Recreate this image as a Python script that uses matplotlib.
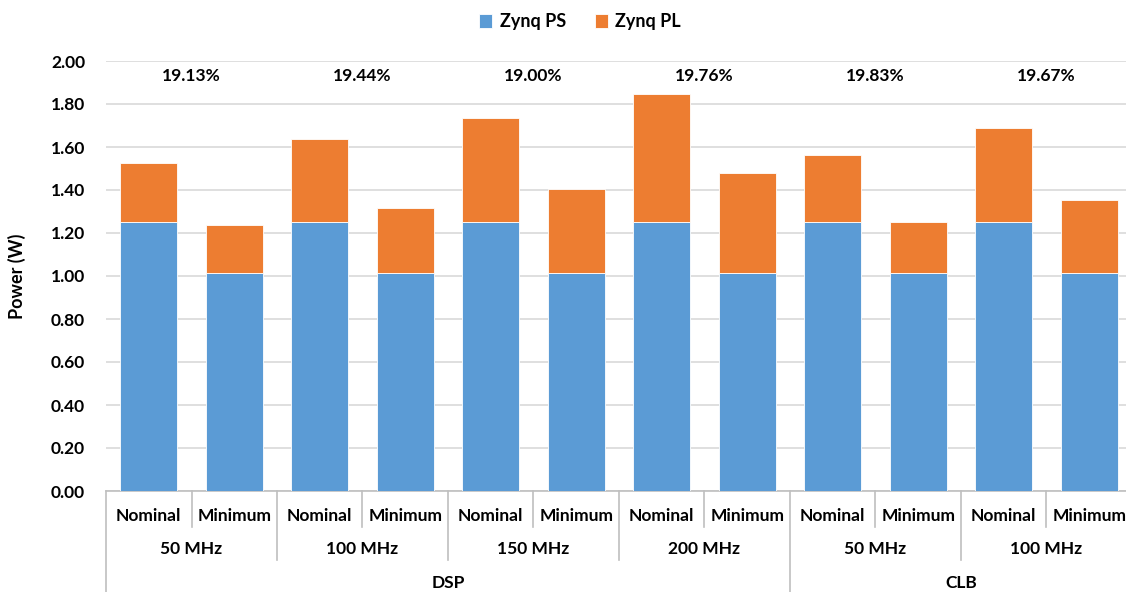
import matplotlib.pyplot as plt
from matplotlib.lines import Line2D

plt.rcParams['font.family'] = ['Lato', 'DejaVu Sans']
plt.rcParams['font.weight'] = 'bold'

# уровни подписей по оси X
modes = ['Nominal', 'Minimum'] * 6
freqs = ['50 MHz', '100 MHz', '150 MHz', '200 MHz', '50 MHz', '100 MHz']
blocks = ['DSP', 'CLB']
block_sizes = [4, 2]

# мощность, Вт
ps = [1.25, 1.015, 1.25, 1.015, 1.25, 1.015, 1.25, 1.015, 1.25, 1.015, 1.25, 1.015]
total = [1.525, 1.235, 1.637, 1.316, 1.733, 1.403, 1.847, 1.479, 1.563, 1.251, 1.687, 1.353]
pl = [t - p for t, p in zip(total, ps)]

savings = ['19.13%', '19.44%', '19.00%', '19.76%', '19.83%', '19.67%']

blue = '#5B9BD5'
orange = '#ED7D31'
grid = '#D9D9D9'
sep = '#BFBFBF'
fs = 12.5

fig = plt.figure(figsize=(11.26, 5.92), dpi=100)
ax = fig.add_axes([106 / 1126, 1 - 491 / 592, 1026 / 1126, 430 / 592])

x = list(range(len(ps)))
ax.bar(x, ps, width=0.667, color=blue, edgecolor='white', linewidth=0.6, label='Zynq PS', zorder=3)
ax.bar(x, pl, bottom=ps, width=0.667, color=orange, edgecolor='white', linewidth=0.6, label='Zynq PL', zorder=3)

ax.set_xlim(-0.5, len(ps) - 0.5)
ax.set_ylim(0, 2.0)
ax.set_yticks([i * 0.2 for i in range(11)])
ax.set_yticklabels([f'{i * 0.2:.2f}' for i in range(11)], fontsize=fs, fontweight='bold')
ax.yaxis.grid(True, color=grid, linewidth=1.2, zorder=0)
ax.tick_params(axis='y', length=0, pad=15)
ax.set_xticks([])
for s in ['top', 'right', 'left']:
    ax.spines[s].set_visible(False)
ax.spines['bottom'].set_color(sep)
ax.spines['bottom'].set_linewidth(1.2)

ax.set_ylabel('Power (W)', fontsize=13, fontweight='bold', labelpad=18)

# подписи процентов над группами
for i, s in enumerate(savings):
    ax.text(2 * i + 0.5, 1.93, s, ha='center', va='center', fontsize=fs, fontweight='bold')

# многоуровневая ось категорий
tr = ax.get_xaxis_transform()
row1, row2, row3 = -0.058, -0.135, -0.214
for i, m in enumerate(modes):
    ax.text(i, row1, m, transform=tr, ha='center', va='center', fontsize=fs, fontweight='bold')
for i, f in enumerate(freqs):
    ax.text(2 * i + 0.5, row2, f, transform=tr, ha='center', va='center', fontsize=fs, fontweight='bold')
start = 0
for b, n in zip(blocks, block_sizes):
    ax.text(start + n - 0.5, row3, b, transform=tr, ha='center', va='center', fontsize=fs, fontweight='bold')
    start += 2 * n

def vline(xpos, ybot):
    ax.add_line(Line2D([xpos, xpos], [0, ybot], transform=tr, color=sep, linewidth=1.2, clip_on=False))

for i in range(len(modes) + 1):
    xpos = i - 0.5
    if i % 2 == 1:
        vline(xpos, -0.084)
    elif i in (0, 8, 12):
        vline(xpos, -0.235)
    else:
        vline(xpos, -0.160)

fig.legend(loc='upper center', bbox_to_anchor=(0.515, 1.005), ncol=2, frameon=False,
           prop={'size': 13, 'weight': 'bold'}, handlelength=0.75, handleheight=0.75,
           columnspacing=1.6, handletextpad=0.4)

plt.savefig('out.png', dpi=100)
